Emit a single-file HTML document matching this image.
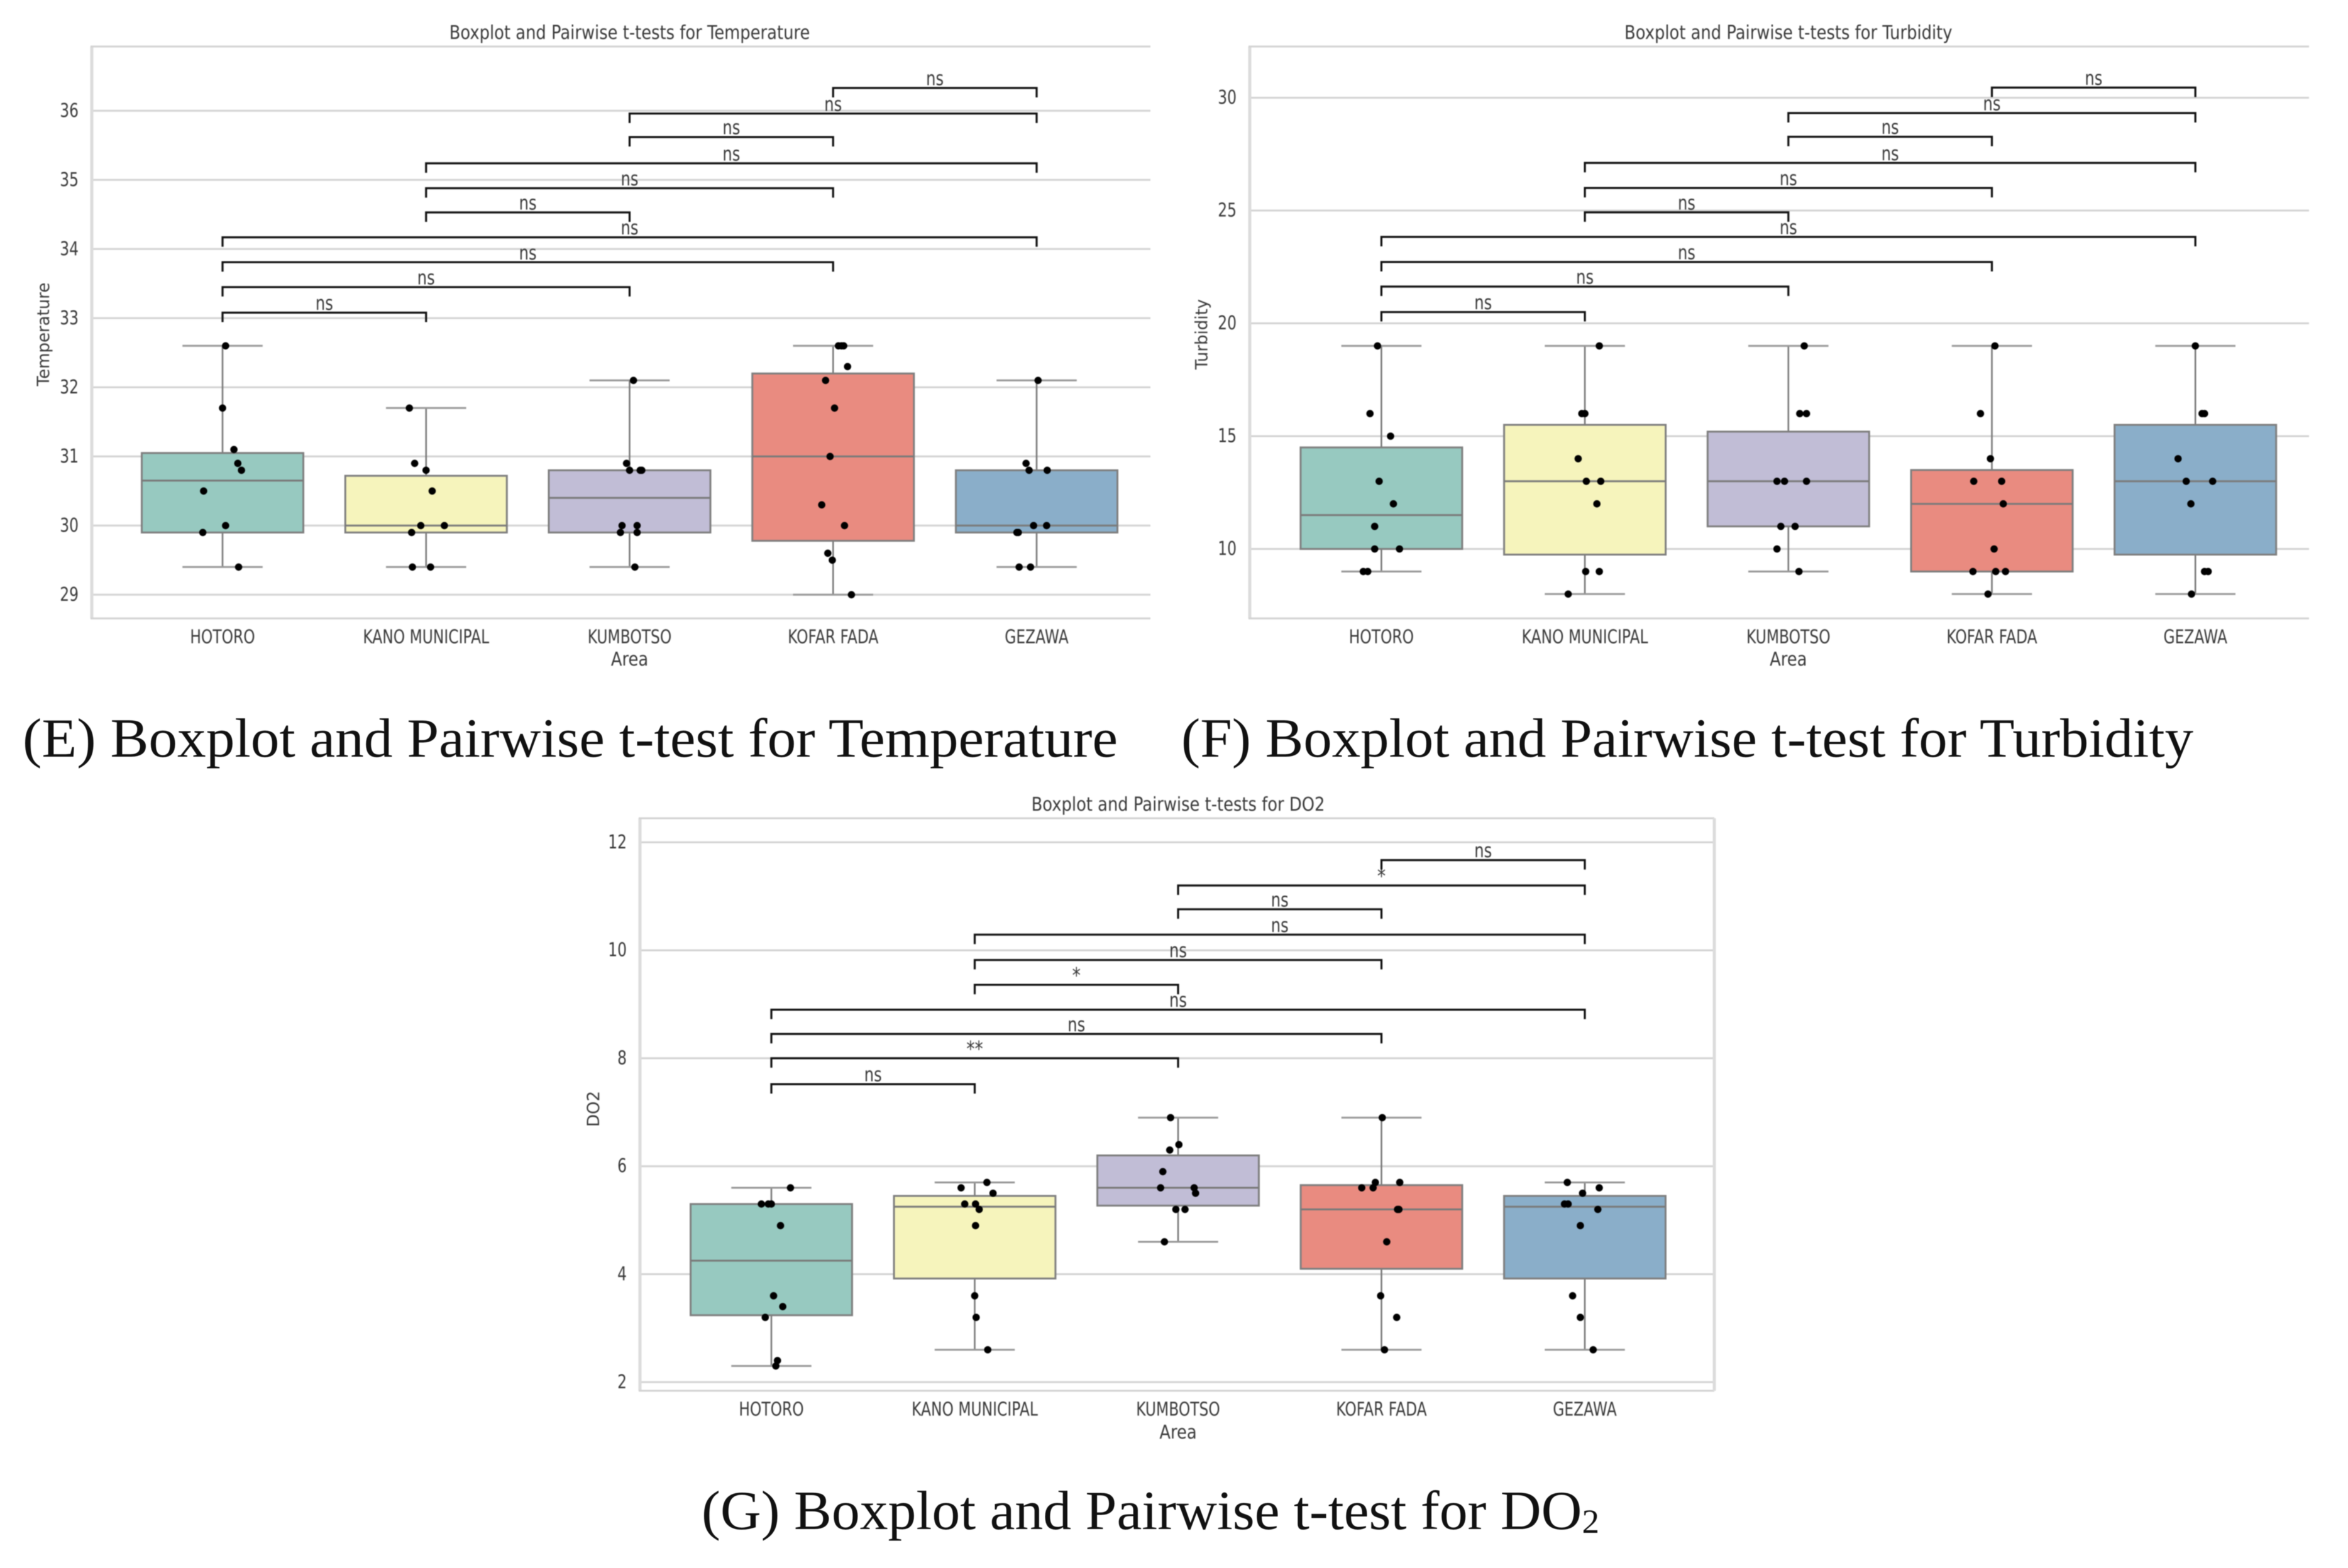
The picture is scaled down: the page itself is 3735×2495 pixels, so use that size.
<!DOCTYPE html>
<html lang="en">
<head>
<meta charset="utf-8">
<title>Boxplots and Pairwise t-tests</title>
<style>
html,body{margin:0;padding:0;background:#fff;}
body{width:3735px;height:2495px;overflow:hidden;}
svg{display:block;}
.chart{filter:blur(0.8px);}
text{font-family:"DejaVu Sans","Liberation Sans",sans-serif;fill:#3a3a3a;}
.caption{font-family:"Liberation Serif","DejaVu Serif",serif;fill:#111;font-size:88px;filter:blur(0.5px);}
</style>
</head>
<body>
<svg id="root" xmlns="http://www.w3.org/2000/svg" width="3735" height="2495" viewBox="0 0 3735 2495">
  <text class="caption" x="36" y="1204" textLength="1742" lengthAdjust="spacingAndGlyphs">(E) Boxplot and Pairwise t-test for Temperature</text>
  <text class="caption" x="1879" y="1204" textLength="1610" lengthAdjust="spacingAndGlyphs">(F) Boxplot and Pairwise t-test for Turbidity</text>
  <text class="caption" x="1116" y="2433" textLength="1428" lengthAdjust="spacingAndGlyphs">(G) Boxplot and Pairwise t-test for DO<tspan font-size="54" dy="6">2</tspan></text>
</svg>
<script>
var categories = ["HOTORO", "KANO MUNICIPAL", "KUMBOTSO", "KOFAR FADA", "GEZAWA"];
var bracketPairs = [[0,1],[0,2],[0,3],[0,4],[1,2],[1,3],[1,4],[2,3],[2,4],[3,4]];

/* Temperature */
var tempTicks = [29,30,31,32,33,34,35,36];
var tempQ1 = [29.9,29.9,29.9,29.78,29.9];
var tempMedian = [30.65,30,30.4,31,30];
var tempQ3 = [31.05,30.72,30.8,32.2,30.8];
var tempWhiskerLow = [29.4,29.4,29.4,29,29.4];
var tempWhiskerHigh = [32.6,31.7,32.1,32.6,32.1];
var tempPoints = [
  [32.6,31.7,31.1,30.9,30.8,30.5,30.0,29.9,29.4],
  [31.7,30.9,30.8,30.5,30,30,29.9,29.4,29.4],
  [32.1,30.9,30.8,30.8,30.8,30,30,29.9,29.9,29.4],
  [32.6,32.6,32.6,32.3,32.1,31.7,31,30.3,30,29.6,29.5,29],
  [32.1,30.9,30.8,30.8,30,30,29.9,29.9,29.4,29.4]
];
var tempJitter = [
  [.015,0,.056,.075,.093,-.093,.015,-.097,.079],
  [-.082,-.056,0,.03,-.026,.09,-.071,-.067,.022],
  [.019,-.015,0,.052,.06,-.037,.037,-.045,.037,.026],
  [.026,.052,.041,.071,-.037,.007,-.015,-.056,.056,-.026,-.004,.09],
  [.007,-.052,-.037,.052,-.015,.049,-.097,-.09,-.086,-.03]
];
var tempBracketLevels = [33.08,33.45,33.81,34.17,34.53,34.88,35.24,35.62,35.96,36.33];
var tempBracketLabels = ["ns","ns","ns","ns","ns","ns","ns","ns","ns","ns"];

/* Turbidity */
var turbTicks = [10,15,20,25,30];
var turbQ1 = [10,9.75,11,9,9.75];
var turbMedian = [11.5,13,13,12,13];
var turbQ3 = [14.5,15.5,15.2,13.5,15.5];
var turbWhiskerLow = [9,8,9,8,8];
var turbWhiskerHigh = [19,19,19,19,19];
var turbPoints = [
  [19,16,15,13,12,11,10,10,9,9],
  [19,16,16,14,13,13,12,9,9,8],
  [19,16,16,13,13,13,11,11,10,9],
  [19,16,14,13,13,12,10,9,9,9,8],
  [19,16,16,14,13,13,12,9,9,8]
];
var turbJitter = [
  [-.019,-.056,.045,-.011,.059,-.033,-.033,.089,-.089,-.067],
  [.071,-.015,0,-.033,.007,.078,.059,.004,.071,-.082],
  [.078,.056,.089,-.056,-.019,.089,-.037,.033,-.056,.052],
  [.015,-.056,-.007,-.089,.048,.056,.011,-.093,.019,.067,-.019],
  [0,.033,.045,-.085,-.045,.085,-.022,.045,.063,-.019]
];
var turbBracketLevels = [20.5,21.63,22.72,23.83,24.92,26,27.11,28.27,29.32,30.45];
var turbBracketLabels = ["ns","ns","ns","ns","ns","ns","ns","ns","ns","ns"];

/* DO2 */
var doTicks = [2,4,6,8,10,12];
var doQ1 = [3.24,3.92,5.27,4.1,3.92];
var doMedian = [4.25,5.25,5.6,5.2,5.25];
var doQ3 = [5.3,5.45,6.2,5.65,5.45];
var doWhiskerLow = [2.3,2.6,4.6,2.6,2.6];
var doWhiskerHigh = [5.6,5.7,6.9,6.9,5.7];
var doPoints = [
  [5.6,5.3,5.3,5.3,4.9,3.6,3.4,3.2,2.4,2.3],
  [5.7,5.6,5.5,5.3,5.3,5.2,4.9,3.6,3.2,2.6],
  [6.9,6.4,6.3,5.9,5.6,5.6,5.5,5.2,5.2,4.6],
  [6.9,5.7,5.7,5.6,5.6,5.2,5.2,4.6,3.6,3.2,2.6],
  [5.7,5.6,5.5,5.3,5.3,5.2,4.9,3.6,3.2,2.6]
];
var doJitter = [
  [.094,-.049,-.015,0,.045,.011,.056,-.03,.03,.022],
  [.06,-.067,.09,-.049,.004,.022,.004,0,.007,.064],
  [-.037,.004,-.041,-.075,-.086,.079,.086,-.011,.034,-.067],
  [.004,-.03,.09,-.097,-.041,.079,.086,.026,-.004,.075,.015],
  [-.086,.071,-.011,-.1,-.082,.064,-.022,-.06,-.022,.041]
];
var doBracketLevels = [7.52,8.0,8.45,8.9,9.36,9.82,10.29,10.76,11.2,11.67];
var doBracketLabels = ["ns","**","ns","ns","*","ns","ns","ns","*","ns"];

var boxColors = ["#97c9c0","#f6f4bc","#c1bdd6","#e98b80","#8aaec9"];
var SVGNS = "http://www.w3.org/2000/svg";
var root = document.getElementById("root");

function make(tag, attrs, parent) {
  var n = document.createElementNS(SVGNS, tag);
  for (var k in attrs) n.setAttribute(k, attrs[k]);
  parent.appendChild(n);
  return n;
}

/* horizontally condensed label, matching the squeezed raster figure */
function label(str, x, y, anchor, parent, size, squeeze, rotate) {
  var t = rotate
    ? "translate(" + x + "," + y + ") rotate(-90) scale(1," + squeeze + ")"
    : "translate(" + x + "," + y + ") scale(" + squeeze + ",1)";
  var n = make("text", {transform: t, "text-anchor": anchor, "dominant-baseline": "central", "font-size": size}, parent);
  n.textContent = str;
  return n;
}

function drawChart(c) {
  var g = make("g", {"class": "chart"}, root);
  
  

  function xPos(i) { return c.x0 + c.dx * i; }
  function yPos(v) { return c.yRef - (v - c.vRef) * c.unit; }

  /* grid */
  c.ticks.forEach(function (t) {
    var line = make("line", {x1: c.left, x2: c.right, y1: yPos(t), y2: yPos(t), stroke: "#d3d3d3", "stroke-width": 3}, g);
    
    
    var tl = label(String(t), c.left - 21, yPos(t), "end", g, 30, 0.78, false);
    
    
  });

  /* frame */
  var frameLeft = make("line", {x1: c.left, x2: c.left, y1: c.top, y2: c.bottom, stroke: "#dcdcdc", "stroke-width": 5}, g);
  
  
  var frameTop = make("line", {x1: c.left - 2, x2: c.right, y1: c.top, y2: c.top, stroke: "#d3d3d3", "stroke-width": 3}, g);
  
  
  var frameBottom = make("line", {x1: c.left - 2, x2: c.right, y1: c.bottom, y2: c.bottom, stroke: "#d3d3d3", "stroke-width": 3}, g);
  
  
  if (c.rightSpine) {
    var frameRight = make("line", {x1: c.right, x2: c.right, y1: c.top, y2: c.bottom, stroke: "#dcdcdc", "stroke-width": 5}, g);
    
    
  }

  /* boxes */
  var boxHalf = c.dx * 0.397, capHalf = c.dx * 0.197;
  categories.forEach(function (name, i) {
    var x = xPos(i);
    var wl = make("line", {x1: x, x2: x, y1: yPos(c.q1[i]), y2: yPos(c.lo[i]), stroke: "#7a7a7a", "stroke-width": 2.6}, g);
    
    
    var wh = make("line", {x1: x, x2: x, y1: yPos(c.q3[i]), y2: yPos(c.hi[i]), stroke: "#7a7a7a", "stroke-width": 2.6}, g);
    
    
    var cl = make("line", {x1: x - capHalf, x2: x + capHalf, y1: yPos(c.lo[i]), y2: yPos(c.lo[i]), stroke: "#999", "stroke-width": 3}, g);
    
    
    var ch = make("line", {x1: x - capHalf, x2: x + capHalf, y1: yPos(c.hi[i]), y2: yPos(c.hi[i]), stroke: "#999", "stroke-width": 3}, g);
    
    
    var box = make("rect", {x: x - boxHalf, width: boxHalf * 2, y: yPos(c.q3[i]), height: yPos(c.q1[i]) - yPos(c.q3[i]), fill: boxColors[i], stroke: "#7f7f7f", "stroke-width": 3}, g);
    
    
    var med = make("line", {x1: x - boxHalf, x2: x + boxHalf, y1: yPos(c.med[i]), y2: yPos(c.med[i]), stroke: "#7a7a7a", "stroke-width": 3}, g);
    
    
    var cat = label(name, x, c.catY, "middle", g, 30, 0.78, false);
    
    
  });

  /* jittered points */
  c.points.forEach(function (vals, i) {
    vals.forEach(function (v, j) {
      var p = make("circle", {cx: xPos(i + c.jitter[i][j]), cy: yPos(v), r: 5.8, fill: "#000"}, g);
      
      
    });
  });

  /* significance brackets */
  bracketPairs.forEach(function (pair, k) {
    var x1 = xPos(pair[0]), x2 = xPos(pair[1]), y = yPos(c.levels[k]);
    var b = make("path", {d: "M" + x1 + " " + (y + 15) + "V" + y + "H" + x2 + "V" + (y + 15), fill: "none", stroke: "#111", "stroke-width": 3.2}, g);
    
    
    var isStar = c.labels[k].charAt(0) === "*";
    var bl = label(c.labels[k], (x1 + x2) / 2, y - (isStar ? 14 : 15), "middle", g, isStar ? 34 : 31, 0.78, false);
    
    
  });

  /* titles */
  var title = label(c.title, xPos(2), c.titleY, "middle", g, 30, 0.86, false);
  
  
  var xt = label("Area", xPos(2), c.areaY, "middle", g, 30, 0.86, false);
  
  
  var yt = label(c.yTitle, c.yTitleX, c.yTitleY, "middle", g, 26, 1.02, true);
  
  
}

drawChart({
  key: "temperature", title: "Boxplot and Pairwise t-tests for Temperature", yTitle: "Temperature",
  left: 146, right: 1830, top: 74, bottom: 984, x0: 354, dx: 323.75,
  yRef: 946.3, vRef: 29, unit: 110, catY: 1014, areaY: 1049, titleY: 52, yTitleX: 70, yTitleY: 532,
  ticks: tempTicks, q1: tempQ1, med: tempMedian, q3: tempQ3, lo: tempWhiskerLow, hi: tempWhiskerHigh,
  points: tempPoints, jitter: tempJitter, levels: tempBracketLevels, labels: tempBracketLabels
});
drawChart({
  key: "turbidity", title: "Boxplot and Pairwise t-tests for Turbidity", yTitle: "Turbidity",
  left: 1988, right: 3673, top: 74, bottom: 984, x0: 2197.4, dx: 323.7,
  yRef: 873.5, vRef: 10, unit: 35.9, catY: 1014, areaY: 1049, titleY: 52, yTitleX: 1912.5, yTitleY: 532,
  ticks: turbTicks, q1: turbQ1, med: turbMedian, q3: turbQ3, lo: turbWhiskerLow, hi: turbWhiskerHigh,
  points: turbPoints, jitter: turbJitter, levels: turbBracketLevels, labels: turbBracketLabels
});
drawChart({
  key: "do2", title: "Boxplot and Pairwise t-tests for DO2", yTitle: "DO2", rightSpine: true,
  left: 1018, right: 2727, top: 1302, bottom: 2213, x0: 1227, dx: 323.5,
  yRef: 2199.3, vRef: 2, unit: 85.9, catY: 2243, areaY: 2279, titleY: 1280, yTitleX: 945, yTitleY: 1764.5,
  ticks: doTicks, q1: doQ1, med: doMedian, q3: doQ3, lo: doWhiskerLow, hi: doWhiskerHigh,
  points: doPoints, jitter: doJitter, levels: doBracketLevels, labels: doBracketLabels
});
</script>
</body>
</html>
